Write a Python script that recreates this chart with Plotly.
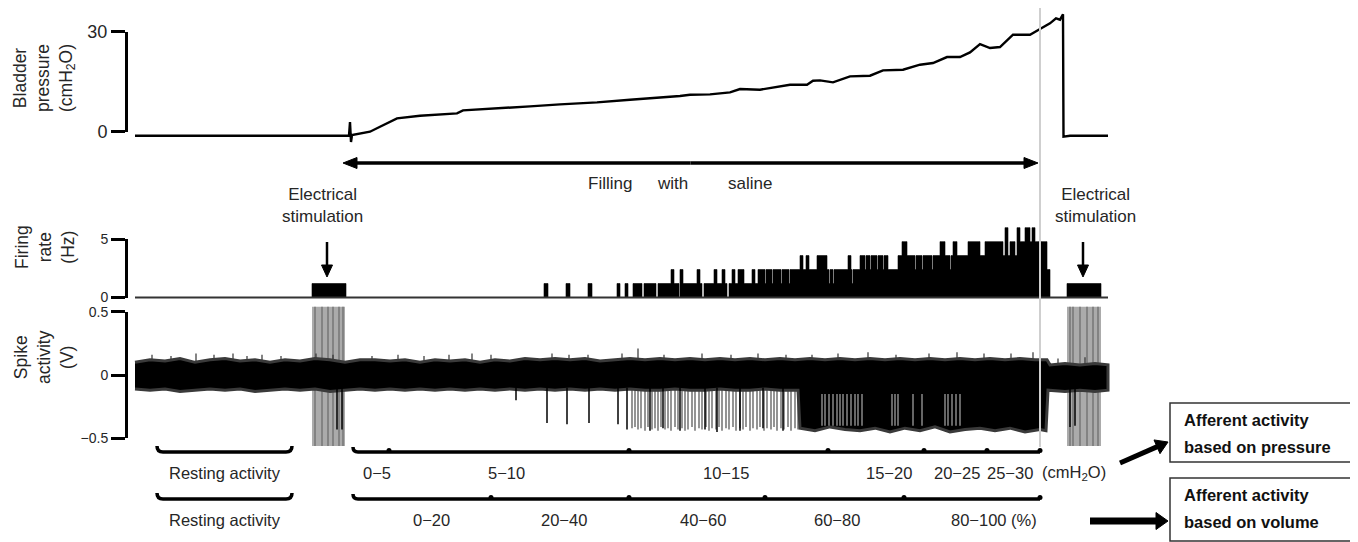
import math
import plotly.graph_objects as go

W, H = 1358, 542          # browser window
OFF = 8                   # default page margin around the plot div
FW, FH = W - OFF, H - OFF  # figure size

# ---------------- data (time axis in s) ----------------
# bladder pressure (cmH2O)
pressure_pts = [(135, -1.2), (349, -1.2), (350, 2.9), (351, -3.1), (352, -1.0), (356, -0.8),
                (370, 0.0), (380, 1.5), (397, 4.0), (420, 4.8), (457, 5.5), (463, 6.4), (500, 7.0),
                (530, 7.6), (560, 8.2), (597, 8.8), (630, 9.6), (660, 10.2), (680, 10.7), (690, 11.1),
                (710, 11.2), (730, 11.8), (740, 12.8), (760, 12.6), (790, 14.1), (807, 14.1),
                (813, 15.3), (820, 15.4), (833, 14.8), (850, 16.6), (870, 16.8), (883, 18.4),
                (903, 18.6), (920, 20.1), (933, 20.6), (947, 22.4), (960, 22.4), (970, 23.8),
                (980, 26.3), (990, 25.1), (1000, 25.4), (1013, 29.1), (1030, 29.1), (1040, 30.8),
                (1050, 32.5), (1056, 34.0), (1060, 33.6), (1063, 35.2), (1063.5, -1.5), (1070, -1.2),
                (1090, -1.3), (1108, -1.2)]

# firing rate (Hz), step changes: (time, rate from that time on)
firing_steps = [(135, 0), (312, 1.2), (346, 0), (544, 1.2), (548, 0), (566, 1.2), (570, 0),
                (588, 1.2), (592, 0), (617, 1.2), (620, 0), (625, 1.2), (628, 0), (633, 1.2),
                (642, 0), (644, 1.2), (656, 0), (658, 1.2), (671, 2.4), (674, 1.2), (679, 0),
                (680, 2.4), (683, 1.2), (697, 2.4), (700, 1.2), (702, 0), (704, 1.2), (714, 2.4),
                (717, 1.2), (722, 2.4), (725, 1.2), (727, 0), (729, 1.2), (732, 2.4), (735, 1.2),
                (738, 2.4), (744, 1.2), (752, 2.4), (755, 1.2), (758, 2.4), (765, 1.2), (766, 2.4),
                (772, 1.2), (773, 2.4), (781, 1.2), (782, 2.4), (789, 1.2), (790, 2.4), (800, 3.6),
                (803, 2.4), (806, 3.6), (809, 2.4), (817, 3.6), (827, 2.4), (829, 1.2), (830, 2.4),
                (833, 1.2), (834, 2.4), (848, 3.6), (851, 2.4), (852, 1.2), (853, 2.4), (860, 3.6),
                (865, 2.4), (866, 3.6), (870, 2.4), (871, 3.6), (877, 2.4), (878, 3.6), (883, 2.4),
                (884, 3.6), (888, 2.4), (898, 3.6), (902, 4.8), (907, 3.6), (915, 2.4), (916, 3.6),
                (922, 2.4), (923, 3.6), (932, 2.4), (933, 3.6), (940, 4.8), (945, 3.6), (950, 2.4),
                (951, 3.6), (953, 4.8), (957, 3.6), (968, 4.8), (980, 3.6), (985, 4.8), (1003, 3.6),
                (1005, 6.0), (1008, 3.6), (1010, 4.8), (1015, 3.6), (1017, 6.0), (1020, 4.8),
                (1025, 6.0), (1030, 4.8), (1032, 6.0), (1035, 4.8), (1039, 0), (1041, 4.8),
                (1047, 2.4), (1050, 0), (1067, 1.2), (1101, 0), (1108, 0)]

# spike activity (V): envelope of the background noise band
band_upper = [(135, 0.10), (150, 0.12), (165, 0.11), (180, 0.13), (195, 0.10), (210, 0.12),
              (225, 0.13), (240, 0.11), (255, 0.12), (270, 0.10), (285, 0.12), (300, 0.11),
              (315, 0.13), (330, 0.12), (345, 0.10), (360, 0.12), (375, 0.12), (390, 0.11),
              (405, 0.12), (420, 0.10), (435, 0.12), (450, 0.11), (465, 0.12), (480, 0.10),
              (495, 0.12), (510, 0.11), (525, 0.13), (540, 0.12), (555, 0.13), (570, 0.12),
              (585, 0.13), (600, 0.11), (615, 0.12), (630, 0.13), (645, 0.12), (660, 0.13),
              (675, 0.12), (690, 0.13), (705, 0.12), (720, 0.13), (735, 0.12), (750, 0.13),
              (765, 0.12), (780, 0.13), (795, 0.12), (810, 0.13), (825, 0.12), (840, 0.13),
              (855, 0.12), (870, 0.13), (885, 0.12), (900, 0.13), (915, 0.12), (930, 0.13),
              (945, 0.12), (960, 0.13), (975, 0.12), (990, 0.13), (1005, 0.12), (1020, 0.13),
              (1035, 0.12), (1047, 0.12), (1050, 0.08), (1065, 0.09), (1080, 0.08), (1095, 0.09),
              (1108, 0.08)]
band_lower = [(135, -0.11), (150, -0.12), (165, -0.11), (180, -0.13), (195, -0.12), (210, -0.11),
              (225, -0.12), (240, -0.11), (255, -0.13), (270, -0.12), (285, -0.11), (300, -0.12),
              (315, -0.11), (330, -0.13), (345, -0.12), (360, -0.11), (375, -0.12), (390, -0.11),
              (405, -0.12), (420, -0.11), (435, -0.12), (450, -0.11), (465, -0.12), (480, -0.11),
              (495, -0.12), (510, -0.11), (525, -0.12), (540, -0.11), (555, -0.12), (570, -0.11),
              (585, -0.12), (600, -0.11), (615, -0.12), (630, -0.11), (645, -0.12), (660, -0.12),
              (675, -0.11), (690, -0.12), (705, -0.12), (720, -0.11), (735, -0.12), (750, -0.12),
              (765, -0.11), (780, -0.12), (798, -0.12), (800, -0.42), (815, -0.44), (830, -0.41),
              (845, -0.43), (860, -0.44), (875, -0.42), (890, -0.45), (905, -0.42), (920, -0.44),
              (935, -0.41), (950, -0.45), (965, -0.43), (980, -0.42), (995, -0.44), (1010, -0.42),
              (1025, -0.45), (1040, -0.43), (1046, -0.44), (1048, -0.12), (1065, -0.13),
              (1080, -0.12), (1095, -0.13), (1108, -0.12)]
# noise peaks rising above the band (time, positive peak in V)
noise_peaks = [(152, 0.16), (171, 0.15), (196, 0.17), (214, 0.16), (233, 0.17), (247, 0.15),
               (262, 0.16), (281, 0.15), (316, 0.17), (333, 0.16), (372, 0.15), (398, 0.16),
               (424, 0.15), (449, 0.16), (472, 0.17), (491, 0.16), (552, 0.17), (569, 0.16),
               (588, 0.16), (622, 0.17), (638, 0.21), (664, 0.16), (702, 0.17), (731, 0.16),
               (758, 0.17), (786, 0.16), (812, 0.16), (838, 0.17), (868, 0.18), (896, 0.16),
               (929, 0.17), (957, 0.18), (984, 0.17), (1011, 0.17), (1033, 0.18), (1058, 0.13),
               (1085, 0.14)]
# single afferent spikes (time, negative peak in V)
spikes_dark = [(337, -0.43), (342, -0.43), (516, -0.20), (547, -0.38), (567, -0.39), (589, -0.38),
               (618, -0.39), (627, -0.43), (650, -0.44), (663, -0.42), (680, -0.44), (705, -0.43),
               (717, -0.45), (740, -0.44), (763, -0.42), (783, -0.44), (1070, -0.41), (1075, -0.40)]
spikes_gray = [(632, -0.42), (635, -0.41), (638, -0.43), (641, -0.42), (645, -0.44), (648, -0.41),
               (652, -0.43), (655, -0.42), (658, -0.44), (661, -0.41), (665, -0.43), (668, -0.42),
               (671, -0.44), (675, -0.41), (678, -0.43), (682, -0.42), (685, -0.44), (688, -0.43),
               (692, -0.41), (695, -0.44), (699, -0.42), (702, -0.43), (706, -0.41), (709, -0.44),
               (712, -0.42), (716, -0.43), (719, -0.41), (722, -0.44), (726, -0.42), (729, -0.43),
               (733, -0.41), (736, -0.44), (740, -0.42), (743, -0.43), (746, -0.41), (750, -0.44),
               (753, -0.42), (757, -0.43), (760, -0.41), (764, -0.44), (767, -0.42), (771, -0.43),
               (774, -0.41), (777, -0.44), (781, -0.42), (784, -0.43), (788, -0.41), (791, -0.44),
               (795, -0.42), (798, -0.43)]
# lighter spikes inside the dense discharge period
spikes_light = [822, 825, 829, 833, 837, 840, 843, 847, 851, 855, 858, 862, 892, 895, 898, 913,
                922, 945, 948, 952, 956, 960]
# electrical stimulation windows and artefacts
stim_windows = [(312, 345), (1067, 1101)]
stim_artifacts = [315, 322, 328, 333, 339, 343, 1070, 1073, 1080, 1087, 1093, 1098]
stim_amp = (-0.56, 0.54)

# bottom segment labels
pressure_bins = [353, 389, 629, 828, 924, 987, 1040]
pressure_labels = ["0\u22125", "5\u221210", "10\u221215", "15\u221220", "20\u221225", "25\u221230"]
pressure_label_x = [377, 506, 726, 889, 957, 1010]
volume_bins = [353, 491, 629, 765, 904, 1040]
volume_labels = ["0\u221220", "20\u221240", "40\u221260", "60\u221280", "80\u2212100 (%)"]
volume_label_x = [431, 564, 703, 837, 994]
resting_span = (157, 292)
filling_span = (343, 1038)
filling_words = [("Filling", 610), ("with", 672), ("saline", 750)]
stim_arrow_x = [327, 1083]

# ---------------- helpers ----------------
def py(v):
    """page pixel row -> paper fraction"""
    return 1 - (v - OFF) / FH

SANS = "Liberation Sans, Arial, sans-serif"
TXT = "#262626"

fig = go.Figure()

# stimulation artefact windows
for (a, b) in stim_windows:
    fig.add_trace(go.Scatter(x=[a, b, b, a, a], y=[stim_amp[0], stim_amp[0], stim_amp[1], stim_amp[1], stim_amp[0]],
                             fill="toself", fillcolor="#ababab", line=dict(width=0), mode="lines",
                             yaxis="y3", hoverinfo="skip"))
sx, sy = [], []
for x in stim_artifacts:
    sx += [x, x, None]
    sy += [stim_amp[0], stim_amp[1], None]
fig.add_trace(go.Scatter(x=sx, y=sy, mode="lines", line=dict(color="#767676", width=1.5),
                         yaxis="y3", hoverinfo="skip"))

# gray spikes
gx, gy = [], []
for x, d in spikes_gray:
    gx += [x, x, None]
    gy += [-0.1, d, None]
fig.add_trace(go.Scatter(x=gx, y=gy, mode="lines", line=dict(color="#7a7a7a", width=1.6),
                         yaxis="y3", hoverinfo="skip"))

# noise peaks
nx_, ny_ = [], []
for x, v in noise_peaks:
    nx_ += [x, x, None]
    ny_ += [0.05, v, None]
fig.add_trace(go.Scatter(x=nx_, y=ny_, mode="lines", line=dict(color="#333333", width=1.2),
                         yaxis="y3", hoverinfo="skip"))

# noise band
bx = [p[0] for p in band_upper] + [p[0] for p in band_lower][::-1]
by = [p[1] for p in band_upper] + [p[1] for p in band_lower][::-1]
fig.add_trace(go.Scatter(x=bx, y=by, fill="toself", fillcolor="black", mode="lines",
                         line=dict(color="#3a3a3a", width=3), yaxis="y3", hoverinfo="skip"))

# lighter spikes in dense period
lx, ly = [], []
for x in spikes_light:
    lx += [x, x, None]
    ly += [-0.15, -0.40, None]
fig.add_trace(go.Scatter(x=lx, y=ly, mode="lines", line=dict(color="#808080", width=1.6),
                         yaxis="y3", hoverinfo="skip"))

# dark spikes
dx, dy = [], []
for x, d in spikes_dark:
    dx += [x, x, None]
    dy += [-0.1, d, None]
fig.add_trace(go.Scatter(x=dx, y=dy, mode="lines", line=dict(color="black", width=1.5),
                         yaxis="y3", hoverinfo="skip"))

# firing rate histogram
fig.add_trace(go.Scatter(x=[p[0] for p in firing_steps], y=[p[1] for p in firing_steps],
                         mode="lines", line=dict(color="black", width=0.6, shape="hv"),
                         fill="tozeroy", fillcolor="black", yaxis="y2", hoverinfo="skip"))
fig.add_trace(go.Scatter(x=[firing_steps[0][0], firing_steps[-1][0]], y=[0, 0], mode="lines",
                         line=dict(color="#333333", width=2), yaxis="y2", hoverinfo="skip"))

# bladder pressure
fig.add_trace(go.Scatter(x=[p[0] for p in pressure_pts], y=[p[1] for p in pressure_pts],
                         mode="lines", line=dict(color="black", width=2.4), yaxis="y",
                         hoverinfo="skip"))

# invisible traces so the scale-bar axes are drawn
for ya in ("y4", "y5", "y6"):
    fig.add_trace(go.Scatter(x=[OFF], y=[0], mode="markers", marker=dict(opacity=0),
                             yaxis=ya, hoverinfo="skip"))

# ---------------- axes ----------------
def rng(zero_px, px_per_unit):
    return [(zero_px - H) / px_per_unit, (zero_px - OFF) / px_per_unit]

hidden = dict(visible=False, showgrid=False, zeroline=False, fixedrange=True, automargin=False)
bar_axis = dict(anchor="free", position=(126 - OFF) / FW, side="left", showline=True, linewidth=3,
                linecolor="black", ticks="outside", ticklen=14, tickwidth=3, tickcolor="black",
                showgrid=False, zeroline=False, automargin=False)

fig.update_layout(
    width=FW, height=FH, margin=dict(l=0, r=0, t=0, b=0, pad=0, autoexpand=False),
    paper_bgcolor="white", plot_bgcolor="rgba(0,0,0,0)", showlegend=False,
    xaxis=dict(range=[OFF, W], domain=[0, 1], **hidden),
    yaxis=dict(range=rng(131.7, 100 / 30), domain=[0, 1], **hidden),
    yaxis2=dict(range=rng(297.5, 11.64), overlaying="y", **hidden),
    yaxis3=dict(range=rng(375, 126.6), overlaying="y", **hidden),
    yaxis4=dict(domain=[py(131.7), py(31.7)], range=[0, 30], tickvals=[0, 30],
                tickfont=dict(family=SANS, size=18, color=TXT), **bar_axis),
    yaxis5=dict(domain=[py(297.5), py(239.3)], range=[0, 5], tickvals=[0, 5],
                tickfont=dict(family=SANS, size=14, color=TXT), **bar_axis),
    yaxis6=dict(domain=[py(438.3), py(311.7)], range=[-0.5, 0.5], tickvals=[-0.5, 0, 0.5],
                tickfont=dict(family=SANS, size=14, color=TXT), **bar_axis),
)

ann = []
shapes = []

def label(text, x, y, size, xanchor="center", color=TXT, angle=0):
    ann.append(dict(text=text, x=x, y=py(y), xref="x", yref="paper", showarrow=False,
                    xanchor=xanchor, yanchor="middle", textangle=angle,
                    font=dict(family=SANS, size=size, color=color)))

def arrow(x0, y0, x1, y1, w, hl, hw):
    L = math.hypot(x1 - x0, y1 - y0)
    ux, uy = (x1 - x0) / L, (y1 - y0) / L
    bx_, by_ = x1 - ux * hl, y1 - uy * hl
    nx, ny = -uy, ux
    shapes.append(dict(type="line", xref="x", yref="paper", x0=x0, y0=py(y0), x1=bx_ + ux, y1=py(by_ + uy),
                       line=dict(color="black", width=w)))
    p1 = (bx_ + nx * hw / 2, by_ + ny * hw / 2)
    p2 = (bx_ - nx * hw / 2, by_ - ny * hw / 2)
    shapes.append(dict(type="path", xref="x", yref="paper", fillcolor="black",
                       line=dict(color="black", width=1),
                       path=f"M {x1},{py(y1)} L {p1[0]},{py(p1[1])} L {p2[0]},{py(p2[1])} Z"))

# axis titles
for text, cx, cy in (("Bladder<br>pressure<br>(cmH<sub>2</sub>O)", 44, 78),
                     ("Firing<br>rate<br>(Hz)", 45, 247),
                     ("Spike<br>activity<br>(V)", 44, 357)):
    label(text, cx, cy, 17.5, angle=-90)

# stimulation labels and arrows
for x, tx in zip(stim_arrow_x, (322, 1095)):
    label("Electrical<br>stimulation", tx, 205, 17)
    arrow(x, 242, x, 277, 2.5, 12, 11)

# filling arrow (double headed)
mid = (filling_span[0] + filling_span[1]) / 2
arrow(mid, 163, filling_span[0], 163, 3.5, 14, 11)
arrow(mid, 163, filling_span[1], 163, 3.5, 14, 11)
for w_, x_ in filling_words:
    label(w_, x_, 183, 17)

# reference line at end of filling
shapes.append(dict(type="line", x0=1040, x1=1040, y0=py(447), y1=py(8), xref="x", yref="paper",
                   line=dict(color="#cfcfcf", width=2), layer="above"))

# bottom brackets
def bracket(x0, x1, y):
    return dict(type="path", xref="x", yref="paper",
                path=f"M {x0},{py(y - 6)} Q {x0},{py(y)} {x0 + 6},{py(y)} L {x1 - 6},{py(y)} Q {x1},{py(y)} {x1},{py(y - 6)}",
                line=dict(color="black", width=3.5))

ROW1, ROW2 = 452, 499
for yl in (ROW1, ROW2):
    shapes.append(bracket(resting_span[0], resting_span[1], yl))
    label("Resting activity", (resting_span[0] + resting_span[1]) / 2, yl + 21, 16.5)

for bins, yl in ((pressure_bins, ROW1), (volume_bins, ROW2)):
    shapes.append(dict(type="path", xref="x", yref="paper",
                       path=f"M {bins[0]},{py(yl - 5)} Q {bins[0]},{py(yl)} {bins[0] + 5},{py(yl)} L {bins[-1]},{py(yl)}",
                       line=dict(color="black", width=3.5)))
    for b in bins[1:]:
        shapes.append(dict(type="circle", xref="x", yref="paper", x0=b - 2.5, x1=b + 2.5,
                           y0=py(yl + 1), y1=py(yl - 4), fillcolor="black",
                           line=dict(color="black", width=0)))

for t, x in zip(pressure_labels, pressure_label_x):
    label(t, x, ROW1 + 21, 16.5)
label("(cmH<sub>2</sub>O)", 1074, ROW1 + 21, 16.5)
for t, x in zip(volume_labels, volume_label_x):
    label(t, x, ROW2 + 21, 16.5)

# boxes on the right
for (y0, y1, l1, l2) in ((403, 462, "Afferent activity", "based on pressure"),
                         (478, 541, "Afferent activity", "based on volume")):
    shapes.append(dict(type="rect", xref="x", yref="paper", x0=1170, x1=1356, y0=py(y1), y1=py(y0),
                       line=dict(color="#333333", width=1.5), fillcolor="white"))
    label(f"<b>{l1}</b>", 1182, y0 + 17, 16.5, xanchor="left", color="#111111")
    label(f"<b>{l2}</b>", 1182, y0 + 44, 16.5, xanchor="left", color="#111111")

arrow(1120, 463, 1168, 442, 5, 12, 15)
arrow(1090, 521, 1168, 521, 7, 12, 17)

fig.update_layout(annotations=ann, shapes=shapes)
fig.write_html("out.html")
